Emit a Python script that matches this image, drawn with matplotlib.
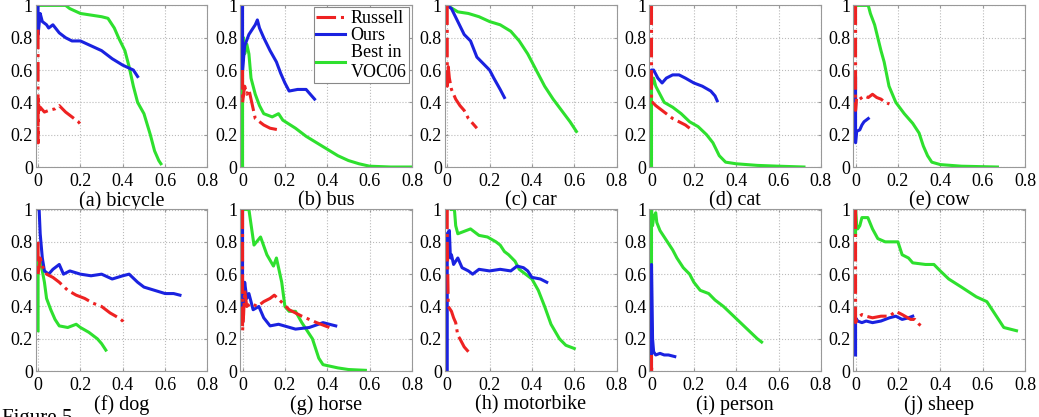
import matplotlib.pyplot as plt

plt.rcParams['font.family'] = ['Liberation Serif', 'DejaVu Serif']

# Precision-recall curves: (recall, precision)
panels = ['(a) bicycle', '(b) bus', '(c) car', '(d) cat', '(e) cow',
          '(f) dog', '(g) horse', '(h) motorbike', '(i) person', '(j) sheep']

russell = {
    'bicycle': ([0, 0, 0, 0.005, 0.01, 0.03, 0.05, 0.08, 0.1, 0.13, 0.16, 0.19, 0.21],
                [0.85, 0.15, 0.42, 0.35, 0.37, 0.34, 0.35, 0.36, 0.38, 0.34, 0.31, 0.28, 0.25]),
    'bus': ([0, 0, 0.01, 0.02, 0.03, 0.04, 0.05, 0.06, 0.08, 0.1, 0.13, 0.17],
            [0.6, 0.4, 0.5, 0.45, 0.48, 0.42, 0.36, 0.3, 0.28, 0.26, 0.24, 0.23]),
    'car': ([0, 0, 0.005, 0.01, 0.02, 0.04, 0.06, 0.08, 0.1, 0.12, 0.14],
            [1.0, 0.5, 0.62, 0.55, 0.48, 0.42, 0.38, 0.35, 0.3, 0.27, 0.24]),
    'cat': ([0, 0, 0.005, 0.02, 0.05, 0.08, 0.1, 0.13, 0.16, 0.18],
            [1.0, 0.4, 0.4, 0.38, 0.35, 0.32, 0.3, 0.28, 0.26, 0.24]),
    'cow': ([0, 0, 0.005, 0.02, 0.04, 0.06, 0.08, 0.1, 0.12, 0.14, 0.16],
            [1.0, 0.35, 0.43, 0.42, 0.44, 0.43, 0.45, 0.43, 0.42, 0.4, 0.39]),
    'dog': ([0, 0, 0.01, 0.02, 0.04, 0.07, 0.1, 0.14, 0.18, 0.22, 0.26, 0.3, 0.34, 0.38, 0.4, 0.41],
            [0.8, 0.6, 0.7, 0.65, 0.6, 0.58, 0.55, 0.5, 0.47, 0.45, 0.42, 0.4, 0.36, 0.33, 0.31, 0.29]),
    'horse': ([0, 0, 0.005, 0.01, 0.02, 0.04, 0.07, 0.1, 0.13, 0.15, 0.19, 0.22, 0.28, 0.35, 0.41],
              [1.0, 0.25, 0.35, 0.5, 0.4, 0.42, 0.4, 0.43, 0.45, 0.47, 0.42, 0.38, 0.34, 0.3, 0.27]),
    'motorbike': ([0, 0, 0.005, 0.02, 0.03, 0.04, 0.05, 0.06, 0.08, 0.1],
                  [1.0, 0.8, 0.4, 0.37, 0.33, 0.3, 0.22, 0.2, 0.15, 0.12]),
    'person': ([0, 0, 0.003],
               [0.1, 0.0, 0.05]),
    'sheep': ([0, 0, 0.01, 0.03, 0.05, 0.08, 0.12, 0.16, 0.19, 0.22, 0.26, 0.28, 0.3, 0.31],
              [1.0, 0.3, 0.33, 0.35, 0.34, 0.33, 0.34, 0.34, 0.37, 0.35, 0.32, 0.32, 0.29, 0.28]),
}

ours = {
    'bicycle': ([0, 0, 0.01, 0.02, 0.04, 0.05, 0.07, 0.1, 0.13, 0.16, 0.2, 0.25, 0.3, 0.35, 0.4, 0.45, 0.47],
                [1.0, 0.82, 0.95, 0.9, 0.88, 0.86, 0.88, 0.83, 0.8, 0.78, 0.78, 0.75, 0.72, 0.67, 0.63, 0.6, 0.56]),
    'bus': ([0, 0, 0.01, 0.03, 0.06, 0.07, 0.08, 0.1, 0.13, 0.16, 0.18, 0.2, 0.22, 0.26, 0.3, 0.32, 0.34],
            [1.0, 0.6, 0.75, 0.82, 0.88, 0.91, 0.86, 0.8, 0.72, 0.65, 0.58, 0.52, 0.47, 0.48, 0.48, 0.45, 0.42]),
    'car': ([0, 0.02, 0.05, 0.08, 0.11, 0.14, 0.17, 0.2, 0.22, 0.25, 0.27],
            [1.0, 0.98, 0.9, 0.82, 0.78, 0.68, 0.64, 0.6, 0.55, 0.48, 0.43]),
    'cat': ([0, 0, 0.01, 0.03, 0.05, 0.07, 0.1, 0.13, 0.16, 0.2, 0.24, 0.28, 0.3, 0.31],
            [0.5, 0.6, 0.6, 0.55, 0.52, 0.55, 0.57, 0.57, 0.55, 0.52, 0.5, 0.47, 0.44, 0.41]),
    'cow': ([0, 0, 0.005, 0.02, 0.03, 0.04, 0.06],
            [0.55, 0.15, 0.22, 0.23, 0.26, 0.28, 0.3]),
    'dog': ([0.005, 0.01, 0.02, 0.03, 0.05, 0.07, 0.1, 0.12, 0.15, 0.2, 0.25, 0.3, 0.35, 0.4, 0.43, 0.47,
             0.5, 0.55, 0.6, 0.64, 0.67],
            [1.0, 0.85, 0.7, 0.62, 0.6, 0.63, 0.66, 0.6, 0.62, 0.6, 0.59, 0.6, 0.57, 0.59, 0.6, 0.55,
             0.52, 0.5, 0.48, 0.48, 0.47]),
    'horse': ([0, 0, 0.01, 0.02, 0.03, 0.05, 0.077, 0.1, 0.13, 0.17, 0.25, 0.315, 0.38, 0.44],
              [1.0, 0.3, 0.55, 0.45, 0.48, 0.38, 0.4, 0.33, 0.28, 0.29, 0.26, 0.27, 0.3, 0.28]),
    'motorbike': ([0, 0, 0.01, 0.015, 0.02, 0.03, 0.05, 0.07, 0.1, 0.12, 0.15, 0.2, 0.25, 0.3, 0.33,
                   0.36, 0.38, 0.4, 0.44, 0.47],
                  [0.0, 0.85, 0.87, 0.7, 0.72, 0.66, 0.7, 0.64, 0.62, 0.6, 0.63, 0.62, 0.63, 0.62, 0.65,
                   0.64, 0.62, 0.58, 0.57, 0.55]),
    'person': ([0, 0, 0.005, 0.01, 0.02, 0.04, 0.06, 0.08, 0.11],
               [0.0, 0.66, 0.2, 0.12, 0.1, 0.11, 0.1, 0.1, 0.09]),
    'sheep': ([0, 0, 0.01, 0.03, 0.05, 0.08, 0.12, 0.16, 0.19, 0.22, 0.25, 0.27],
              [0.1, 0.33, 0.31, 0.3, 0.31, 0.3, 0.31, 0.33, 0.34, 0.32, 0.33, 0.34]),
}

best_voc06 = {
    'bicycle': ([0, 0.13, 0.15, 0.2, 0.25, 0.3, 0.33, 0.36, 0.38, 0.41, 0.43, 0.45, 0.47, 0.5, 0.53,
                 0.55, 0.57, 0.58],
                [1.0, 1.0, 0.98, 0.95, 0.94, 0.93, 0.92, 0.86, 0.8, 0.72, 0.62, 0.5, 0.4, 0.33, 0.2,
                 0.1, 0.04, 0.02]),
    'bus': ([0, 0, 0.005, 0.01, 0.02, 0.03, 0.04, 0.06, 0.08, 0.1, 0.14, 0.17, 0.19, 0.25, 0.3, 0.35,
             0.4, 0.45, 0.5, 0.55, 0.6, 0.7, 0.8],
            [0.0, 0.75, 0.8, 0.7, 0.76, 0.7, 0.55, 0.45, 0.38, 0.33, 0.31, 0.33, 0.29, 0.24, 0.19, 0.15,
             0.11, 0.07, 0.04, 0.02, 0.005, 0.0, 0.0]),
    'car': ([0, 0.05, 0.1, 0.15, 0.2, 0.25, 0.3, 0.34, 0.38, 0.42, 0.46, 0.5, 0.54, 0.58, 0.61],
            [1.0, 0.96, 0.95, 0.93, 0.9, 0.88, 0.84, 0.78, 0.7, 0.6, 0.5, 0.42, 0.35, 0.28, 0.22]),
    'cat': ([0, 0, 0.01, 0.02, 0.04, 0.06, 0.1, 0.14, 0.18, 0.22, 0.26, 0.29, 0.32, 0.35, 0.4, 0.5,
             0.6, 0.72],
            [0.0, 0.5, 0.55, 0.5, 0.45, 0.4, 0.37, 0.33, 0.28, 0.25, 0.2, 0.15, 0.07, 0.03, 0.02, 0.01,
             0.005, 0.0]),
    'cow': ([0, 0.06, 0.07, 0.09, 0.105, 0.12, 0.135, 0.158, 0.19, 0.23, 0.27, 0.3, 0.32, 0.34, 0.36,
             0.4, 0.5, 0.67],
            [1.0, 1.0, 0.95, 0.88, 0.8, 0.72, 0.65, 0.5, 0.4, 0.33, 0.27, 0.21, 0.13, 0.07, 0.03,
             0.015, 0.005, 0.0]),
    'dog': ([0, 0, 0.01, 0.02, 0.03, 0.04, 0.06, 0.08, 0.1, 0.14, 0.18, 0.2, 0.24, 0.28, 0.3, 0.32],
            [0.25, 0.7, 0.68, 0.62, 0.55, 0.45, 0.38, 0.32, 0.28, 0.27, 0.29, 0.27, 0.24, 0.2, 0.17, 0.13]),
    'horse': ([0.01, 0.03, 0.054, 0.085, 0.115, 0.146, 0.16, 0.185, 0.2, 0.22, 0.25, 0.28, 0.3, 0.33,
               0.36, 0.38, 0.45, 0.5, 0.58],
              [1.0, 1.0, 0.78, 0.83, 0.72, 0.65, 0.7, 0.55, 0.4, 0.37, 0.37, 0.3, 0.26, 0.2, 0.08,
               0.04, 0.02, 0.01, 0.005]),
    'motorbike': ([0.02, 0.034, 0.04, 0.05, 0.07, 0.11, 0.15, 0.19, 0.23, 0.25, 0.27, 0.29, 0.32, 0.34,
                   0.37, 0.4, 0.43, 0.46, 0.49, 0.53, 0.56, 0.6],
                  [1.0, 1.0, 0.9, 0.85, 0.86, 0.88, 0.84, 0.83, 0.8, 0.78, 0.74, 0.72, 0.68, 0.63,
                   0.6, 0.57, 0.5, 0.4, 0.29, 0.2, 0.16, 0.14]),
    'person': ([0, 0, 0.005, 0.01, 0.02, 0.025, 0.04, 0.06, 0.08, 0.1, 0.12, 0.15, 0.18, 0.2, 0.23,
                0.27, 0.3, 0.34, 0.38, 0.42, 0.46, 0.5, 0.52],
               [0.65, 1.0, 0.9, 0.95, 0.98, 0.92, 0.87, 0.83, 0.79, 0.75, 0.7, 0.64, 0.6, 0.55, 0.5,
                0.48, 0.44, 0.4, 0.35, 0.3, 0.25, 0.2, 0.18]),
    'sheep': ([0, 0, 0.005, 0.01, 0.02, 0.03, 0.058, 0.08, 0.105, 0.14, 0.18, 0.2, 0.22, 0.25, 0.27,
               0.33, 0.37, 0.4, 0.44, 0.5, 0.57, 0.62, 0.66, 0.7, 0.76],
              [0.85, 1.0, 0.9, 0.88, 0.9, 0.95, 0.95, 0.88, 0.82, 0.8, 0.8, 0.8, 0.72, 0.7, 0.67,
               0.66, 0.66, 0.62, 0.57, 0.52, 0.46, 0.43, 0.35, 0.27, 0.25]),
}

red = '#ee2222'
blue = '#1a22e0'
green = '#2ee02e'

fig = plt.figure(figsize=(10.39, 4.17), dpi=100)

lefts = [0.0342, 0.231, 0.428, 0.6246, 0.821]
bottoms = [0.5995, 0.110]
w = 0.1655
h = 0.3895

for i, label in enumerate(panels):
    name = label.split(') ')[1]
    ax = fig.add_axes([lefts[i % 5], bottoms[i // 5], w, h])
    gx, gy = best_voc06[name]
    bx, by = ours[name]
    rx, ry = russell[name]
    ax.plot(gx, gy, color=green, lw=2.2, label='Best in\nVOC06')
    ax.plot(bx, by, color=blue, lw=2.2, label='Ours')
    ax.plot(rx, ry, color=red, lw=2.2, ls='-.', label='Russell')
    ax.set_xlim(-0.012, 0.8)
    ax.set_ylim(0, 1.005)
    ax.set_xticks([0, 0.2, 0.4, 0.6, 0.8])
    ax.set_xticklabels(['0', '0.2', '0.4', '0.6', '0.8'])
    ax.set_yticks([0, 0.2, 0.4, 0.6, 0.8, 1])
    ax.set_yticklabels(['0', '0.2', '0.4', '0.6', '0.8', '1'])
    ax.tick_params(axis='x', direction='in', length=2, labelsize=13, pad=4,
                   top=True, color='#999999')
    ax.tick_params(axis='y', direction='in', length=2, labelsize=13, pad=2,
                   right=True, color='#999999')
    ax.grid(True, ls=':', color='#bbbbbb', lw=0.8)
    for s in ax.spines.values():
        s.set_color('#999999')
    ax.set_xlabel(label, fontsize=14.5, labelpad=1)
    if name == 'bus':
        handles, labels = ax.get_legend_handles_labels()
        leg = ax.legend(handles[::-1], labels[::-1], loc='upper right', fontsize=13,
                        handlelength=1.6, handletextpad=0.3, borderpad=0.15,
                        labelspacing=0.0, borderaxespad=0.15, fancybox=False,
                        framealpha=1)
        leg.get_frame().set_edgecolor('#888888')
        leg.get_frame().set_linewidth(0.8)

fig.text(0.002, -0.003, 'Figure 5.', fontsize=15, va='center', ha='left')

fig.savefig('out.png', dpi=100)
